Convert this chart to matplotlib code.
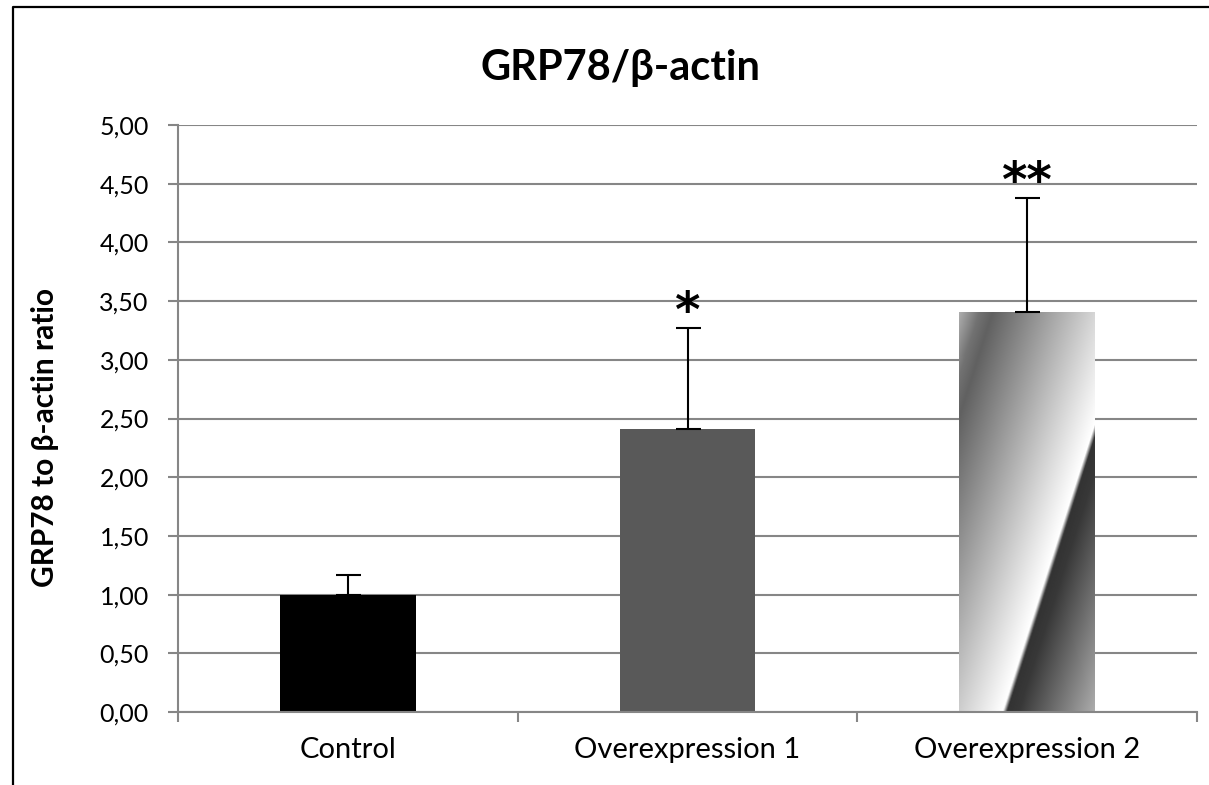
import numpy as np
import matplotlib
matplotlib.use("Agg")
import matplotlib.pyplot as plt
from matplotlib.lines import Line2D
from matplotlib.ticker import FuncFormatter, FixedLocator

plt.rcParams['font.family'] = ['Lato', 'Open Sans', 'DejaVu Sans']

# Data
categories = ["Control", "Overexpression 1", "Overexpression 2"]
ratio = [1.00, 2.41, 3.41]
sd_upper = [0.17, 0.86, 0.97]
significance = ["", "*", "**"]
y_ticks = [0.0, 0.5, 1.0, 1.5, 2.0, 2.5, 3.0, 3.5, 4.0, 4.5, 5.0]

W, H = 1209, 785
fig = plt.figure(figsize=(W / 100, H / 100), dpi=100)
ax = fig.add_axes([178 / W, 1 - 712 / H, (1197 - 178) / W, (712 - 125) / H])

x = np.arange(len(categories))
bar_w = 0.40
grid_c = "#868686"

ax.set_xlim(-0.5, len(categories) - 0.5)
ax.set_ylim(0, 5)
ax.yaxis.grid(True, color=grid_c, lw=1.5, zorder=0)
ax.set_axisbelow(True)

bars = ax.bar(x, ratio, width=bar_w, color=["black", "#595959", "none"],
              edgecolor="none", zorder=2)


def sheen(u):
    # diagonal highlight band with a sharp shadow on its right-hand side
    pts = [-175, -145, -132, 0, 4, 15, 95]
    vals = [0.82, 0.45, 0.38, 1.0, 0.2, 0.22, 0.72]
    return np.interp(u, pts, vals)


# gradient fill for the third bar, computed on a pixel-sized grid
gb = bars[2]
pw, ph = 137, 400
px, py = np.meshgrid(np.arange(pw) + 0.5, np.arange(ph) + 0.5)
dx, dy = 93.0, 288.0
norm = np.hypot(dx, dy)
u = ((px - 44) * dy - py * dx) / norm
img = sheen(u)
im = ax.imshow(img, cmap="gray", vmin=0, vmax=1, origin="lower",
               extent=(gb.get_x(), gb.get_x() + gb.get_width(), 0, gb.get_height()),
               aspect="auto", interpolation="bilinear", zorder=2)
im.set_clip_path(gb)
ax.set_xlim(-0.5, len(categories) - 0.5)
ax.set_ylim(0, 5)

ax.errorbar(x, ratio, yerr=[np.zeros(len(ratio)), sd_upper], fmt="none",
            ecolor="black", elinewidth=1.5, capsize=9, capthick=1.5, zorder=3)

for xi, r, e, s in zip(x, ratio, sd_upper, significance):
    if s:
        ax.annotate(s, (xi, r + e), xytext=(0, 11), textcoords="offset points",
                    ha="center", va="center", fontsize=35, fontweight="bold",
                    family=['DejaVu Sans'])

# axes styling
for side in ["top", "right"]:
    ax.spines[side].set_visible(False)
for side in ["left", "bottom"]:
    ax.spines[side].set_color(grid_c)
    ax.spines[side].set_linewidth(1.5)

ax.set_yticks(y_ticks)
ax.yaxis.set_major_formatter(FuncFormatter(lambda v, p: f"{v:.2f}".replace(".", ",")))
ax.tick_params(axis="y", direction="out", length=7, width=1.5, color=grid_c,
               labelsize=18, pad=14)

ax.set_xticks(x)
ax.set_xticklabels(categories)
ax.xaxis.set_minor_locator(FixedLocator(np.arange(len(categories) + 1) - 0.5))
ax.tick_params(axis="x", which="major", length=0, labelsize=21, pad=18)
ax.tick_params(axis="x", which="minor", direction="out", length=7, width=1.5,
               color=grid_c)

ax.set_ylabel("GRP78 to β-actin ratio", fontsize=21.5, fontweight="bold")
ax.yaxis.set_label_coords(-0.117, 0.467)

fig.text(621 / W, 1 - 68 / H, "GRP78/β-actin", ha="center", va="center",
         fontsize=30, fontweight="bold")

# chart frame
fig.add_artist(Line2D([13 / W, 13 / W, 1.0], [0.0, 1 - 7 / H, 1 - 7 / H],
                      transform=fig.transFigure, color="black", lw=1.6))

fig.savefig("out.png", dpi=100)
